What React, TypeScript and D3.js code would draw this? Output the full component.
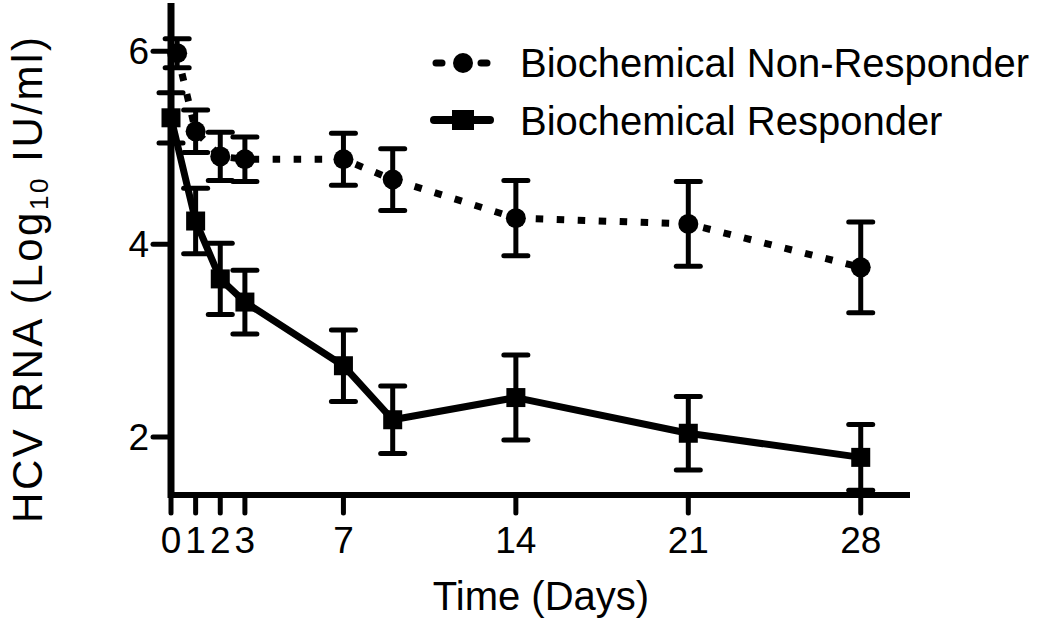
import React from "react";
import * as d3 from "d3";

const nonRespDays = [0.25, 1, 2, 3, 7, 9, 14, 21, 28];
const nonRespMean = [5.98, 5.17, 4.91, 4.88, 4.88, 4.67, 4.27, 4.21, 3.76];
const nonRespErr = [0.15, 0.22, 0.25, 0.23, 0.27, 0.32, 0.39, 0.44, 0.47];

const respDays = [0, 1, 2, 3, 7, 9, 14, 21, 28];
const respMean = [5.31, 4.24, 3.64, 3.4, 2.74, 2.18, 2.41, 2.04, 1.79];
const respErr = [0.26, 0.34, 0.37, 0.33, 0.37, 0.35, 0.44, 0.38, 0.34];

const xTicks = [0, 1, 2, 3, 7, 14, 21, 28];
const yTicks = [2, 4, 6];
const legendLabels = ["Biochemical Non-Responder", "Biochemical Responder"];

const FONT = "'Liberation Sans', Arial, Helvetica, sans-serif";

export default function App() {
  const x = d3.scaleLinear().domain([0, 30]).range([171, 910]);
  const y = d3.scaleLinear().domain([1.4, 6.5]).range([495, 3]);

  const nonResp = nonRespDays.map((d, i) => ({ d, m: nonRespMean[i], e: nonRespErr[i] }));
  const resp = respDays.map((d, i) => ({ d, m: respMean[i], e: respErr[i] }));

  const line = d3
    .line<{ d: number; m: number }>()
    .x((p) => x(p.d))
    .y((p) => y(p.m));

  const capW = 12;
  const errBars = (data: { d: number; m: number; e: number }[], key: string) =>
    data.map((p, i) => {
      const cx = x(p.d);
      const top = y(p.m + p.e);
      const bot = y(p.m - p.e);
      return (
        <g key={key + i} stroke="#000" strokeWidth={5}>
          <line x1={cx} x2={cx} y1={top} y2={bot} />
          <line x1={cx - capW} x2={cx + capW} y1={top} y2={top} strokeLinecap="round" />
          <line x1={cx - capW} x2={cx + capW} y1={bot} y2={bot} strokeLinecap="round" />
        </g>
      );
    });

  const sq = 19;

  return (
    <svg
      width={1050}
      height={625}
      style={{ position: "absolute", left: 0, top: 0, background: "#fff" }}
      fontFamily={FONT}
    >
      <rect x={0} y={0} width={1050} height={625} fill="#fff" />

      {/* axes */}
      <line x1={171} x2={171} y1={y.range()[1]} y2={498} stroke="#000" strokeWidth={7} />
      <line x1={168} x2={x.range()[1]} y1={495} y2={495} stroke="#000" strokeWidth={6} />

      {/* y ticks */}
      {yTicks.map((t) => (
        <g key={"yt" + t}>
          <line x1={153} x2={171} y1={y(t)} y2={y(t)} stroke="#000" strokeWidth={5} strokeLinecap="round" />
          <text x={149} y={y(t) + 13} fontSize={37} textAnchor="end" fill="#000">
            {t}
          </text>
        </g>
      ))}

      {/* x ticks */}
      {xTicks.map((t) => (
        <g key={"xt" + t}>
          <line x1={x(t)} x2={x(t)} y1={495} y2={513} stroke="#000" strokeWidth={5} strokeLinecap="round" />
          <text x={x(t)} y={553} fontSize={37} textAnchor="middle" fill="#000">
            {t}
          </text>
        </g>
      ))}

      {/* series lines */}
      <path d={line(nonResp) || ""} fill="none" stroke="#000" strokeWidth={7} strokeDasharray="7.5 13.5" />
      <path d={line(resp) || ""} fill="none" stroke="#000" strokeWidth={7} strokeLinejoin="round" />

      {/* error bars */}
      {errBars(nonResp, "ne")}
      {errBars(resp, "re")}

      {/* markers */}
      {nonResp.map((p, i) => (
        <circle key={"c" + i} cx={x(p.d)} cy={y(p.m)} r={10} fill="#000" />
      ))}
      {resp.map((p, i) => (
        <rect key={"s" + i} x={x(p.d) - sq / 2} y={y(p.m) - sq / 2} width={sq} height={sq} fill="#000" />
      ))}

      {/* legend */}
      <g>
        <line x1={436} x2={442} y1={63} y2={63} stroke="#000" strokeWidth={7} strokeLinecap="round" />
        <line x1={481} x2={487} y1={63} y2={63} stroke="#000" strokeWidth={7} strokeLinecap="round" />
        <circle cx={463} cy={63} r={10} fill="#000" />
        <text x={520} y={77} fontSize={40} fill="#000">
          {legendLabels[0]}
        </text>
        <line x1={434} x2={490} y1={120} y2={120} stroke="#000" strokeWidth={8} strokeLinecap="round" />
        <rect x={463 - 11} y={120 - 10} width={22} height={20} fill="#000" />
        <text x={520} y={135} fontSize={40} fill="#000">
          {legendLabels[1]}
        </text>
      </g>

      {/* axis titles */}
      <text x={541} y={610} fontSize={40} textAnchor="middle" fill="#000">
        Time (Days)
      </text>
      <text
        transform="translate(42,280) rotate(-90)"
        fontSize={42}
        textAnchor="middle"
        fill="#000"
        textLength={486}
        lengthAdjust="spacing"
      >
        HCV RNA (Log
        <tspan fontSize={26} dy={6}>10</tspan>
        <tspan dy={-6}> IU/ml)</tspan>
      </text>
    </svg>
  );
}
